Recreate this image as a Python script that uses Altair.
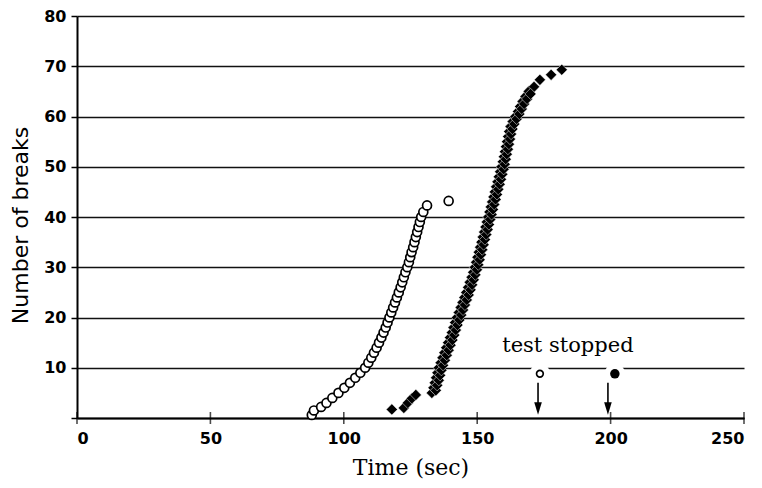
import altair as alt
import pandas as pd

# ---- data ----
open_x = [88.0, 88.8, 91.5, 93.5, 95.7, 98.0, 100.2, 102.3, 104.3, 106.2,
          108.0, 109.2, 110.3, 111.3, 112.3, 113.2, 114.1, 114.9, 115.7, 116.4,
          117.1, 117.8, 118.5, 119.2, 119.9, 120.6, 121.3, 121.9, 122.5, 123.1,
          123.8, 124.4, 124.9, 125.4, 126.0, 126.5, 127.0, 127.5, 128.0, 128.5,
          129.0, 129.8, 131.2, 139.3]
open_y = [0.6, 1.5, 2.2, 3.0, 4.0, 5.0, 6.0, 7.0, 8.0, 9.0,
          10.0, 11.0, 12.0, 13.0, 14.0, 15.0, 16.0, 17.0, 18.0, 19.0,
          20.0, 21.0, 22.0, 23.0, 24.0, 25.0, 26.0, 27.0, 28.0, 29.0,
          30.0, 31.0, 32.0, 33.0, 34.0, 35.0, 36.0, 37.0, 38.0, 39.0,
          40.0, 41.0, 42.3, 43.2]

filled_x = [118.0, 122.5, 124.0, 125.5, 127.0,
            133.0, 133.6, 134.1, 134.6, 135.1, 135.6, 136.3, 137.0, 137.7, 138.4,
            139.1, 139.8, 140.5, 141.1, 141.7, 142.4, 143.1, 143.8, 144.5, 145.2,
            145.9, 146.6, 147.2, 147.9, 148.5, 149.1, 149.6, 150.1, 150.6, 151.1,
            151.6, 152.1, 152.6, 153.1, 153.6, 154.1, 154.6, 155.1, 155.6, 156.1,
            156.6, 157.1, 157.6, 158.1, 158.6, 159.1, 159.6, 160.0, 160.4, 160.8,
            161.2, 161.6, 162.0, 162.5, 163.3, 164.3, 165.3, 166.1, 167.0, 168.1,
            169.3, 171.3, 173.5, 177.7, 181.7]
filled_y = [1.7, 2.0, 3.0, 3.9, 4.6,
            5, 6, 7, 8, 9, 10, 11, 12, 13, 14,
            15, 16, 17, 18, 19, 20, 21, 22, 23, 24,
            25, 26, 27, 28, 29, 30, 31, 32, 33, 34,
            35, 36, 37, 38, 39, 40, 41, 42, 43, 44,
            45, 46, 47, 48, 49, 50, 51, 52, 53, 54,
            55, 56, 57, 58, 59, 60, 61, 62, 63, 64,
            65, 65.9, 67.3, 68.3, 69.3]

filled2_x = [134.5, 135.0, 135.6, 136.1, 136.6, 137.2, 137.9, 138.6, 139.3, 140.0,
             140.7, 141.4, 142.0, 142.6, 143.3, 144.0, 144.7, 145.4, 146.1, 146.8,
             147.5, 148.1, 148.7, 149.3, 149.9, 150.4, 150.9, 151.4, 151.9, 152.4,
             152.9, 153.4, 153.9, 154.4, 154.9, 155.4, 155.9, 156.4, 156.9, 157.4,
             157.9, 158.4, 158.9, 159.4, 159.9, 160.3, 160.7, 161.1, 161.5, 161.9,
             162.3, 162.7, 163.2, 163.9, 164.8, 165.8, 166.7, 167.6, 168.7, 170.0]
filled2_y = [5.5, 6.5, 7.5, 8.5, 9.5, 10.5, 11.5, 12.5, 13.5, 14.5,
             15.5, 16.5, 17.5, 18.5, 19.5, 20.5, 21.5, 22.5, 23.5, 24.5,
             25.5, 26.5, 27.5, 28.5, 29.5, 30.5, 31.5, 32.5, 33.5, 34.5,
             35.5, 36.5, 37.5, 38.5, 39.5, 40.5, 41.5, 42.5, 43.5, 44.5,
             45.5, 46.5, 47.5, 48.5, 49.5, 50.5, 51.5, 52.5, 53.5, 54.5,
             55.5, 56.5, 57.5, 58.5, 59.5, 60.5, 61.5, 62.5, 63.5, 64.5]

stop_open = {"x": [173.5], "y": [8.8]}
stop_filled = {"x": [201.6], "y": [8.8]}
arrow_x = [172.8, 199.0]
arrow_top = [7.0, 7.0]
arrow_bottom = [3.0, 3.0]
arrow_head_y = [1.9, 1.9]
annot_text = ["test stopped"]
annot_x = [184.0]
annot_y = [13.1]

x_ticks = [0, 50, 100, 150, 200, 250]
y_ticks = [0, 10, 20, 30, 40, 50, 60, 70, 80]

# ---- frames ----
df_open = pd.DataFrame({"t": open_x, "n": open_y, "order": range(len(open_x))})
df_filled = pd.DataFrame({"t": filled_x + filled2_x, "n": filled_y + filled2_y})
df_so = pd.DataFrame({"t": stop_open["x"], "n": stop_open["y"]})
df_sf = pd.DataFrame({"t": stop_filled["x"], "n": stop_filled["y"]})
df_halo = pd.concat([df_so, df_sf])
df_arrow = pd.DataFrame({"t": arrow_x, "top": arrow_top, "bot": arrow_bottom, "head": arrow_head_y})
df_text = pd.DataFrame({"t": annot_x, "n": annot_y, "label": annot_text})
df_xt = pd.DataFrame({"t": x_ticks})

xscale = alt.Scale(domain=[0, 250], nice=False)
yscale = alt.Scale(domain=[0, 80], nice=False)

X = alt.X("t:Q", scale=xscale, title="Time (sec)",
          axis=alt.Axis(values=x_ticks, ticks=False, grid=False, labelPadding=12,
                        labelFont="DejaVu Sans", labelFontSize=16, labelFontWeight="bold",
                        titleFont="DejaVu Serif", titleFontSize=22, titleFontWeight="normal",
                        titlePadding=11, domainColor="black", domainWidth=2,
                        labelColor="black", titleColor="black"))
Y = alt.Y("n:Q", scale=yscale, title="Number of breaks",
          axis=alt.Axis(values=y_ticks, grid=True, gridColor="#111111", gridWidth=1.6,
                        tickSize=6, tickWidth=1.5, tickColor="black",
                        labelExpr="datum.value == 0 ? '' : datum.label",
                        labelPadding=5, labelFont="DejaVu Sans", labelFontSize=16,
                        labelFontWeight="bold", labelColor="black",
                        titleFont="DejaVu Sans", titleFontSize=22, titleFontWeight="normal",
                        titleColor="black", titlePadding=11, titleY=209,
                        domainColor="black", domainWidth=2))

base_open = alt.Chart(df_open).mark_point(
    shape="circle", filled=True, fill="white", stroke="black", strokeWidth=1.7, size=80, opacity=1
).encode(x=X, y=Y, order="order:Q")

filled = alt.Chart(df_filled).mark_point(
    shape="diamond", filled=True, fill="black", stroke="white", strokeWidth=0.5, size=125, opacity=1
).encode(x="t:Q", y="n:Q")

halo = alt.Chart(df_halo).mark_point(
    shape="circle", filled=True, fill="white", strokeWidth=0, size=420, opacity=1
).encode(x="t:Q", y="n:Q")

s_open = alt.Chart(df_so).mark_point(
    shape="circle", filled=True, fill="white", stroke="black", strokeWidth=1.7, size=45, opacity=1
).encode(x="t:Q", y="n:Q")

s_filled = alt.Chart(df_sf).mark_point(
    shape="circle", filled=True, fill="black", size=90, opacity=1
).encode(x="t:Q", y="n:Q")

shaft = alt.Chart(df_arrow).mark_rule(color="black", strokeWidth=1.6).encode(
    x="t:Q", y="top:Q", y2="bot:Q")

head = alt.Chart(df_arrow).mark_point(
    shape="M-0.6,-1 L0.6,-1 L0,1 Z", filled=True, fill="black", size=160, opacity=1
).encode(x="t:Q", y="head:Q")

xt = alt.Chart(df_xt).mark_tick(orient="vertical", size=12, thickness=1.6, color="black").encode(
    x="t:Q", y=alt.datum(0))

text = alt.Chart(df_text).mark_text(
    font="DejaVu Serif", fontSize=21, color="black", align="center", baseline="alphabetic"
).encode(x="t:Q", y="n:Q", text="label:N")

chart = alt.layer(base_open, filled, halo, s_open, s_filled, shaft, head, xt, text).properties(
    width=667, height=402,
    autosize=alt.AutoSizeParams(type="none"),
    padding={"left": 77, "top": 16, "right": 18, "bottom": 70},
    background="white",
).configure_view(stroke=None)

chart.save("out.html", embed_options={"renderer": "svg", "actions": False})
